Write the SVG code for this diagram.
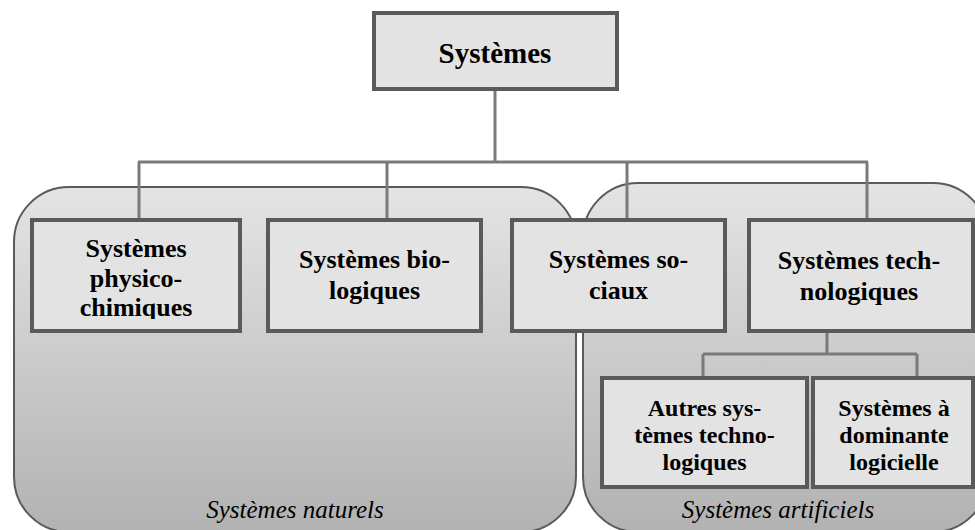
<svg xmlns="http://www.w3.org/2000/svg" width="975" height="530" viewBox="0 0 975 530">
<style>
.box{fill:#e3e3e3;stroke:#5a5a5a;stroke-width:4}
.cont{fill:url(#g);stroke:#5a5a5a;stroke-width:2}
.con{fill:none;stroke:#7a7a7a;stroke-width:3}
.t{font-family:'Liberation Serif','DejaVu Serif',serif;font-weight:700;fill:#000;text-anchor:middle}
.t29{font-size:29px}
.t26{font-size:26px}
.t24{font-size:24px}
.lab{font-family:'Liberation Serif','DejaVu Serif',serif;font-style:italic;font-size:25px;fill:#000;text-anchor:middle}
</style>
<defs>
<linearGradient id="g" x1="0" y1="0" x2="0" y2="1">
<stop offset="0" stop-color="#e4e4e4"/>
<stop offset="1" stop-color="#b2b2b2"/>
</linearGradient>
<clipPath id="c1"><rect x="30" y="218" width="212" height="101"/></clipPath>
</defs>
<rect width="975" height="530" fill="#fff"/>
<g id="naturels">
<rect class="cont" x="14" y="187" width="562" height="345" rx="55" ry="55"/>
<text class="lab" x="295" y="518">Systèmes naturels</text>
</g>
<g id="artificiels">
<rect class="cont" x="583" y="183" width="405" height="349" rx="55" ry="55"/>
<text class="lab" x="778" y="518">Systèmes artificiels</text>
</g>
<g id="connectors">
<path class="con" d="M495 90V162M138 162H868M139 162V220M387 162V220M627 162V220M867 162V220"/>
<path class="con" d="M827 331V354M703 354H917M703 354V378M917 354V378"/>
</g>
<g id="systemes">
<rect class="box" x="374" y="13" width="243" height="76"/>
<text class="t t29" x="495" y="63" font-family="Liberation Serif">Systèmes</text>
</g>
<g id="physico">
<rect class="box" x="32" y="220" width="208" height="111"/>
<text class="t t26" clip-path="url(#c1)"><tspan x="136" y="257">Systèmes</tspan><tspan x="136" y="287">physico-</tspan><tspan x="136" y="316">chimiques</tspan></text>
</g>
<g id="bio">
<rect class="box" x="268" y="220" width="213" height="111"/>
<text class="t t26"><tspan x="374.5" y="268">Systèmes bio-</tspan><tspan x="374.5" y="299">logiques</tspan></text>
</g>
<g id="sociaux">
<rect class="box" x="512" y="220" width="213" height="111"/>
<text class="t t26"><tspan x="618.5" y="268">Systèmes so-</tspan><tspan x="618.5" y="299">ciaux</tspan></text>
</g>
<g id="techno">
<rect class="box" x="749" y="220" width="224" height="111"/>
<text class="t t26"><tspan x="859" y="269">Systèmes tech-</tspan><tspan x="859" y="300">nologiques</tspan></text>
</g>
<g id="autres">
<rect class="box" x="602" y="378" width="205" height="109"/>
<text class="t t24"><tspan x="704.5" y="416">Autres sys-</tspan><tspan x="704.5" y="443">tèmes techno-</tspan><tspan x="704.5" y="470">logiques</tspan></text>
</g>
<g id="logiciel">
<rect class="box" x="813" y="378" width="160" height="109"/>
<text class="t t24"><tspan x="894" y="416">Systèmes à</tspan><tspan x="894" y="443">dominante</tspan><tspan x="894" y="470">logicielle</tspan></text>
</g>
</svg>
